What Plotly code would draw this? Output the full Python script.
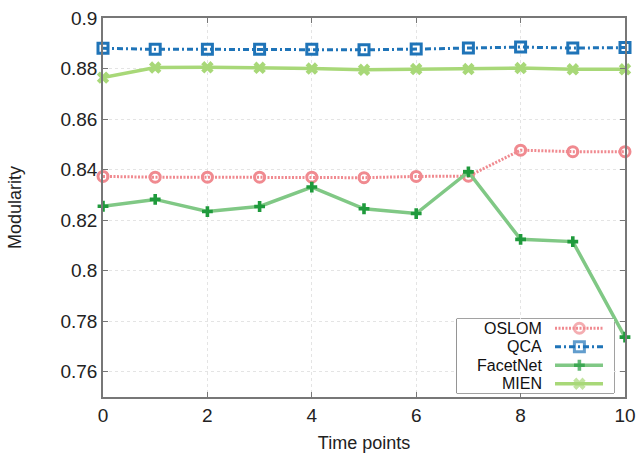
import plotly.graph_objects as go

time_points = [0, 1, 2, 3, 4, 5, 6, 7, 8, 9, 10]
oslom = [0.8373, 0.8370, 0.8370, 0.8370, 0.8370, 0.8368, 0.8373, 0.8374, 0.8477, 0.8471, 0.8471]
qca = [0.8880, 0.8876, 0.8876, 0.8876, 0.8876, 0.8874, 0.8877, 0.8881, 0.8885, 0.8881, 0.8883]
facetnet = [0.8255, 0.8282, 0.8234, 0.8254, 0.8331, 0.8245, 0.8226, 0.8391, 0.8124, 0.8115, 0.7737]
mien = [0.8764, 0.8804, 0.8805, 0.8803, 0.8800, 0.8795, 0.8798, 0.8798, 0.8802, 0.8797, 0.8797]

series_names = ["OSLOM", "QCA", "FacetNet", "MIEN"]
y_ticks = [0.76, 0.78, 0.8, 0.82, 0.84, 0.86, 0.88, 0.9]
y_tick_labels = ["0.76", "0.78", "0.8", "0.82", "0.84", "0.86", "0.88", "0.9"]
x_ticks = [0, 2, 4, 6, 8, 10]

FONT = "Liberation Sans, Arial, sans-serif"

styles = {
    "OSLOM": dict(line=dict(color="#f08a90", width=3, dash="2px,1.5px"),
                  marker=dict(symbol="circle-open", size=10, color="#f08a90", line=dict(width=3))),
    "QCA": dict(line=dict(color="#1f74b8", width=3, dash="6px,3px,2px,3px"),
                marker=dict(symbol="square-open", size=10, color="#1f74b8", line=dict(width=3))),
    "FacetNet": dict(line=dict(color="#80c885", width=3.5),
                     marker=dict(symbol="cross", size=9, color="#1f9a3c", line=dict(width=0))),
    "MIEN": dict(line=dict(color="#a8d878", width=3.5),
                 marker=dict(symbol="x", size=11, color="#a8d878", line=dict(width=0))),
}
data = {"OSLOM": oslom, "QCA": qca, "FacetNet": facetnet, "MIEN": mien}

fig = go.Figure()
for name in series_names:
    fig.add_trace(go.Scatter(x=time_points, y=data[name], mode="lines+markers", name=name,
                             showlegend=False, cliponaxis=False, **styles[name]))

# custom legend (text right-aligned, sample on the right) in an overlay axis
leg_rows = [0.875, 0.625, 0.375, 0.125]
for name, yy in zip(series_names, leg_rows):
    fig.add_trace(go.Scatter(x=[0.625, 0.78, 0.93], y=[yy, yy, yy], mode="lines+markers",
                             xaxis="x2", yaxis="y2", showlegend=False, hoverinfo="skip",
                             line=styles[name]["line"],
                             marker=dict(styles[name]["marker"], size=[0, styles[name]["marker"]["size"], 0])))
    fig.add_annotation(x=0.55, y=yy, xref="x2", yref="y2", text=name, showarrow=False,
                       xanchor="right", yanchor="middle", borderpad=0,
                       font=dict(family=FONT, size=16, color="#111"))

fig.update_layout(
    width=637, height=453,
    margin=dict(l=103, r=12, t=18, b=56),
    paper_bgcolor="white", plot_bgcolor="white",
    font=dict(family=FONT, size=18, color="#222"),
    xaxis=dict(range=[0, 10], tickvals=x_ticks, showgrid=True, gridcolor="#e4e4e4", griddash="dot",
               zeroline=False, showline=True, linecolor="#777", linewidth=1.5, mirror="ticks",
               ticks="inside", ticklen=5, tickcolor="#777", automargin=False,
               title=dict(text="Time points", font=dict(size=18), standoff=12),
               tickfont=dict(size=19, color="#222")),
    yaxis=dict(range=[0.75, 0.9], tickvals=y_ticks, ticktext=y_tick_labels, showgrid=True,
               gridcolor="#e4e4e4", griddash="dot", zeroline=False, showline=True, linecolor="#777",
               linewidth=1.5, mirror="ticks", ticks="inside", ticklen=5, tickcolor="#777",
               automargin=False,
               title=dict(text="Modularity", font=dict(size=18), standoff=34),
               tickfont=dict(size=19, color="#222")),
    xaxis2=dict(domain=[(456.7 - 103) / 522, (614 - 103) / 522], range=[0, 1], visible=False,
                anchor="y2", fixedrange=True),
    yaxis2=dict(domain=[(397 - 393) / 379, (397 - 319) / 379], range=[0, 1], visible=False,
                anchor="x2", fixedrange=True),
)
fig.add_shape(type="rect", xref="x2 domain", yref="y2 domain", x0=0, x1=1, y0=0, y1=1,
              line=dict(color="#444", width=1), fillcolor="white", layer="below")

fig.write_html("out.html", config={"displayModeBar": False},
               post_script="document.body.style.margin='0';document.body.style.overflow='hidden';")
